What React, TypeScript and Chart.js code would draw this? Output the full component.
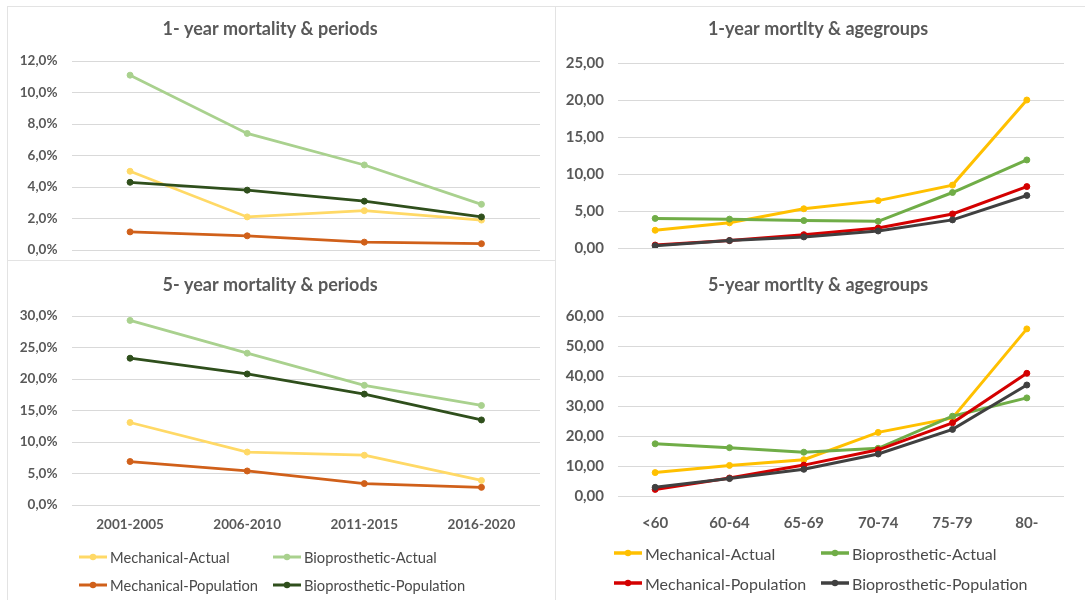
import React, { useEffect, useRef } from "react";
import { Chart, registerables } from "chart.js";

Chart.register(...registerables);

// Categories
const periods = ["2001-2005", "2006-2010", "2011-2015", "2016-2020"];
const ageGroups = ["<60", "60-64", "65-69", "70-74", "75-79", "80-"];
const seriesNames = [
  "Mechanical-Actual",
  "Bioprosthetic-Actual",
  "Mechanical-Population",
  "Bioprosthetic-Population",
];

// 1-year mortality by period (%)
const oneYearPeriodMechActual = [5.0, 2.1, 2.5, 1.9];
const oneYearPeriodBioActual = [11.1, 7.4, 5.4, 2.9];
const oneYearPeriodMechPop = [1.15, 0.9, 0.5, 0.4];
const oneYearPeriodBioPop = [4.3, 3.8, 3.1, 2.1];

// 5-year mortality by period (%)
const fiveYearPeriodMechActual = [13.1, 8.4, 7.9, 3.9];
const fiveYearPeriodBioActual = [29.3, 24.1, 19.0, 15.8];
const fiveYearPeriodMechPop = [6.9, 5.4, 3.4, 2.8];
const fiveYearPeriodBioPop = [23.3, 20.8, 17.6, 13.5];

// 1-year mortality by age group
const oneYearAgeMechActual = [2.4, 3.4, 5.3, 6.4, 8.5, 20.0];
const oneYearAgeBioActual = [4.0, 3.9, 3.7, 3.6, 7.5, 11.9];
const oneYearAgeMechPop = [0.4, 1.0, 1.8, 2.7, 4.6, 8.3];
const oneYearAgeBioPop = [0.3, 1.0, 1.5, 2.3, 3.8, 7.1];

// 5-year mortality by age group
const fiveYearAgeMechActual = [7.8, 10.2, 12.1, 21.2, 26.0, 55.7];
const fiveYearAgeBioActual = [17.4, 16.1, 14.6, 15.9, 26.6, 32.7];
const fiveYearAgeMechPop = [2.2, 6.0, 10.3, 15.4, 24.4, 40.9];
const fiveYearAgeBioPop = [2.9, 5.8, 8.9, 14.0, 22.2, 37.0];

// Series colours
const periodColors = ["#FFD966", "#A9D18E", "#D0601A", "#2F4F1C"];
const ageColors = ["#FFC000", "#70AD47", "#D40000", "#404040"];

const FONT = "Lato, 'Open Sans', sans-serif";
const TEXT = "#595959";
const LEGEND_TEXT = "#4A4A4A";
const GRID = "#D9D9D9";

const pctFmt = (v: number) => v.toFixed(1).replace(".", ",") + "%";
const numFmt = (v: number) => v.toFixed(2).replace(".", ",");

const panelTitle = {
  id: "panelTitle",
  afterDraw(chart: any, _args: any, opts: any) {
    const { ctx } = chart;
    ctx.save();
    ctx.font = `bold 18px ${FONT}`;
    ctx.fillStyle = TEXT;
    ctx.textAlign = "center";
    ctx.textBaseline = "middle";
    ctx.fillText(opts.text, opts.x, opts.y);
    ctx.restore();
  },
};

type PanelProps = {
  left: number;
  top: number;
  width: number;
  height: number;
  labels: string[];
  series: number[][];
  colors: string[];
  yMax: number;
  yStep: number;
  fmt: (v: number) => string;
  padding: { left: number; top: number; right: number; bottom: number };
  yAxisWidth: number;
  xAxisHeight: number;
  xTickPadding: number;
  showX: boolean;
  title: string;
  titleX: number;
  titleY: number;
  tickSize: number;
  lineWidth: number;
};

function Panel(p: PanelProps) {
  const ref = useRef<HTMLCanvasElement>(null);
  useEffect(() => {
    if (!ref.current) return;
    const chart = new Chart(ref.current, {
      type: "line",
      data: {
        labels: p.labels,
        datasets: p.series.map((values, i) => ({
          label: seriesNames[i],
          data: values,
          borderColor: p.colors[i],
          backgroundColor: p.colors[i],
          borderWidth: p.lineWidth,
          pointRadius: 3,
          pointBorderWidth: 1,
          pointBackgroundColor: p.colors[i],
          pointBorderColor: p.colors[i],
          tension: 0,
          order: 4 - i,
        })),
      },
      options: {
        animation: false,
        responsive: false,
        maintainAspectRatio: false,
        layout: { padding: p.padding },
        plugins: {
          legend: { display: false },
          tooltip: { enabled: false },
          title: { display: false },
          panelTitle: { text: p.title, x: p.titleX, y: p.titleY },
        } as any,
        scales: {
          x: {
            display: p.showX,
            offset: true,
            grid: { display: false, drawTicks: false },
            border: { display: false },
            ticks: {
              color: TEXT,
              padding: p.xTickPadding,
              font: { family: FONT, size: p.tickSize, weight: "bold" },
              maxRotation: 0,
              autoSkip: false,
            },
            afterFit: (s: any) => {
              s.height = p.xAxisHeight;
            },
          },
          y: {
            min: 0,
            max: p.yMax,
            grid: { color: GRID, lineWidth: 1, drawTicks: false },
            border: { display: false },
            ticks: {
              stepSize: p.yStep,
              color: TEXT,
              padding: 14,
              font: { family: FONT, size: p.tickSize, weight: "bold" },
              callback: (v: any) => p.fmt(Number(v)),
            },
            afterFit: (s: any) => {
              // plot area extent is fixed by layout padding alone
              s.width = p.yAxisWidth;
              s.paddingTop = 0;
              s.paddingBottom = 0;
            },
          },
        },
      },
      plugins: [panelTitle],
    });
    return () => chart.destroy();
  }, []);
  return (
    <canvas
      ref={ref}
      width={p.width}
      height={p.height}
      style={{
        position: "absolute",
        left: p.left,
        top: p.top,
        width: p.width,
        height: p.height,
      }}
    />
  );
}

function LegendMark({ color, weight }: { color: string; weight: number }) {
  return (
    <svg width="30" height="10" style={{ display: "block" }}>
      <line x1="1" y1="5" x2="29" y2="5" stroke={color} strokeWidth={weight} />
      <circle cx="15" cy="5" r="3.2" fill={color} />
    </svg>
  );
}

type LegendProps = {
  colors: string[];
  cols: number[];
  rows: number[];
  fontSize: number;
  markWeight: number;
};

function Legend({ colors, cols, rows, fontSize, markWeight }: LegendProps) {
  return (
    <>
      {seriesNames.map((name, i) => (
        <div
          key={name}
          style={{
            position: "absolute",
            left: cols[i % 2],
            top: rows[Math.floor(i / 2)] - 10,
            height: 20,
            display: "flex",
            alignItems: "center",
            gap: 2,
            fontFamily: FONT,
            fontSize,
            color: LEGEND_TEXT,
            whiteSpace: "nowrap",
          }}
        >
          <LegendMark color={colors[i]} weight={markWeight} />
          <span>{name}</span>
        </div>
      ))}
    </>
  );
}

const line = (style: React.CSSProperties) => (
  <div style={{ position: "absolute", background: "#E3E3E3", ...style }} />
);

export default function App() {
  return (
    <div
      style={{
        position: "absolute",
        left: 0,
        top: 0,
        width: 1089,
        height: 602,
        background: "#FFFFFF",
        overflow: "hidden",
      }}
    >
      {line({ left: 7, top: 6, width: 1, height: 594 })}
      {line({ left: 7, top: 6, width: 1078, height: 1 })}
      {line({ left: 555, top: 6, width: 1, height: 594 })}
      {line({ left: 7, top: 260, width: 548, height: 1 })}

      <Panel
        left={0}
        top={0}
        width={548}
        height={258}
        labels={periods}
        series={[
          oneYearPeriodMechActual,
          oneYearPeriodBioActual,
          oneYearPeriodMechPop,
          oneYearPeriodBioPop,
        ]}
        colors={periodColors}
        yMax={12}
        yStep={2}
        fmt={pctFmt}
        padding={{ left: 0, top: 61, right: 8, bottom: 8 }}
        yAxisWidth={71.5}
        xAxisHeight={0}
        xTickPadding={0}
        showX={false}
        title="1- year mortality & periods"
        titleX={270}
        titleY={29}
        tickSize={13.5}
        lineWidth={2.75}
      />
      <Panel
        left={0}
        top={258}
        width={548}
        height={290}
        labels={periods}
        series={[
          fiveYearPeriodMechActual,
          fiveYearPeriodBioActual,
          fiveYearPeriodMechPop,
          fiveYearPeriodBioPop,
        ]}
        colors={periodColors}
        yMax={30}
        yStep={5}
        fmt={pctFmt}
        padding={{ left: 0, top: 58, right: 8, bottom: 8 }}
        yAxisWidth={71.5}
        xAxisHeight={35}
        xTickPadding={12}
        showX={true}
        title="5- year mortality & periods"
        titleX={270}
        titleY={27}
        tickSize={13.5}
        lineWidth={2.75}
      />
      <Legend colors={periodColors} cols={[78, 272]} rows={[557, 585]} fontSize={14.7} markWeight={3} />

      <Panel
        left={548}
        top={0}
        width={541}
        height={258}
        labels={ageGroups}
        series={[
          oneYearAgeMechActual,
          oneYearAgeBioActual,
          oneYearAgeMechPop,
          oneYearAgeBioPop,
        ]}
        colors={ageColors}
        yMax={25}
        yStep={5}
        fmt={numFmt}
        padding={{ left: 0, top: 63, right: 25, bottom: 10 }}
        yAxisWidth={70}
        xAxisHeight={0}
        xTickPadding={0}
        showX={false}
        title="1-year mortlty & agegroups"
        titleX={270}
        titleY={29}
        tickSize={15}
        lineWidth={3}
      />
      <Panel
        left={548}
        top={258}
        width={541}
        height={290}
        labels={ageGroups}
        series={[
          fiveYearAgeMechActual,
          fiveYearAgeBioActual,
          fiveYearAgeMechPop,
          fiveYearAgeBioPop,
        ]}
        colors={ageColors}
        yMax={60}
        yStep={10}
        fmt={numFmt}
        padding={{ left: 0, top: 58, right: 25, bottom: 12 }}
        yAxisWidth={70}
        xAxisHeight={40}
        xTickPadding={18}
        showX={true}
        title="5-year mortlty & agegroups"
        titleX={270}
        titleY={27}
        tickSize={15}
        lineWidth={3}
      />
      <Legend colors={ageColors} cols={[613, 820]} rows={[553, 583]} fontSize={16} markWeight={3.5} />
    </div>
  );
}
